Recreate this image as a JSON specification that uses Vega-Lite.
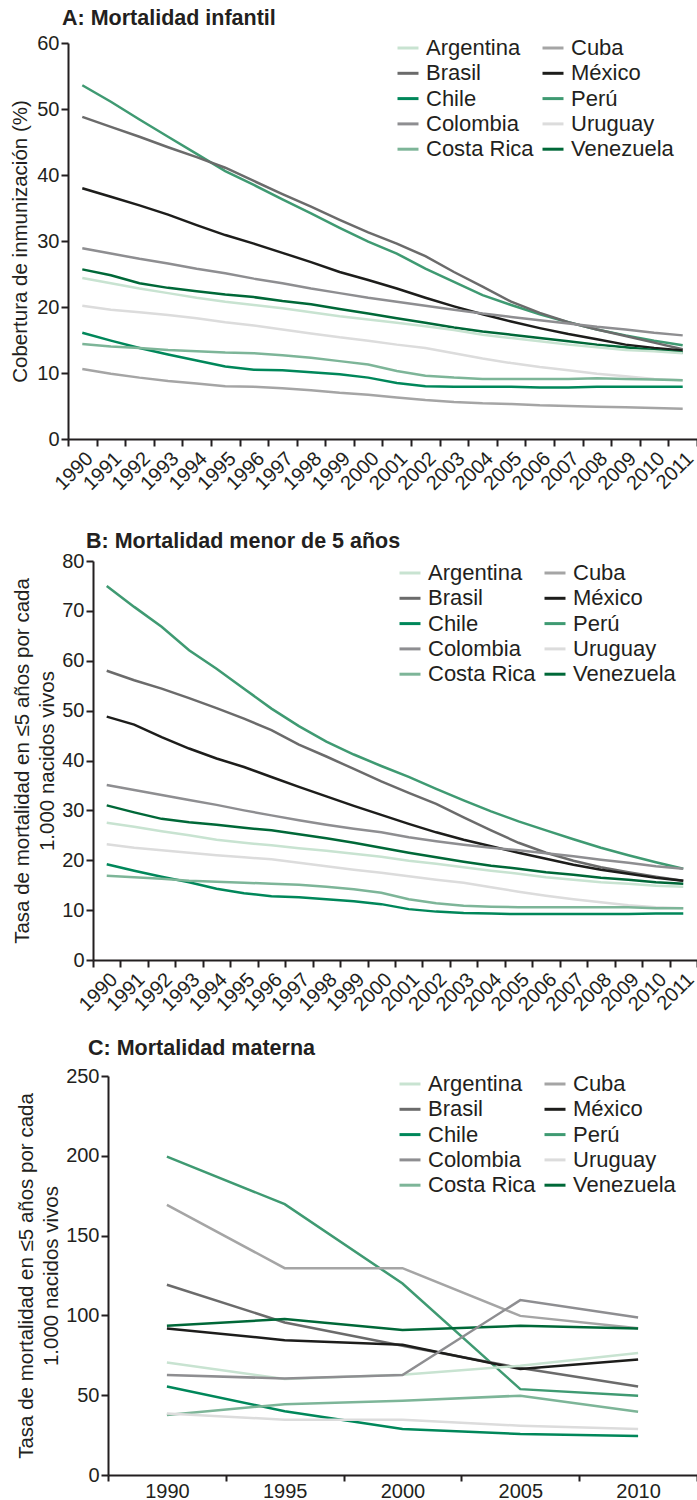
{
"$schema": "https://vega.github.io/schema/vega-lite/v6.json",
"background": "white",
"padding": {"left": 10, "top": 7, "right": 0, "bottom": 0},
"config": {
  "font": "Liberation Sans",
  "view": {"stroke": null},
  "axis": {"domainColor": "#231f20", "domainWidth": 2, "tickColor": "#231f20", "tickWidth": 2, "tickSize": 7, "labelColor": "#231f20", "labelFontSize": 20, "titleFontSize": 20.5, "titleFontWeight": "normal", "titleColor": "#231f20", "grid": false, "labelPadding": 2},
  "legend": {"orient": "none", "columns": 2, "symbolType": "stroke", "symbolSize": 441, "symbolStrokeWidth": 3, "labelFontSize": 22, "labelColor": "#231f20", "rowPadding": 2.3, "columnPadding": 2, "labelOffset": 6, "labelLimit": 300, "title": null},
  "title": {"fontSize": 21.5, "fontWeight": "bold", "color": "#231f20", "anchor": "start", "frame": "group"}
},
"datasets": {
"A": [
{"pais":"Perú","anio":1990,"valor":53.6},{"pais":"Perú","anio":1991,"valor":51.1},{"pais":"Perú","anio":1992,"valor":48.4},{"pais":"Perú","anio":1993,"valor":45.8},{"pais":"Perú","anio":1994,"valor":43.2},{"pais":"Perú","anio":1995,"valor":40.6},{"pais":"Perú","anio":1996,"valor":38.5},{"pais":"Perú","anio":1997,"valor":36.3},{"pais":"Perú","anio":1998,"valor":34.2},{"pais":"Perú","anio":1999,"valor":32.0},{"pais":"Perú","anio":2000,"valor":29.9},{"pais":"Perú","anio":2001,"valor":28.1},{"pais":"Perú","anio":2002,"valor":25.8},{"pais":"Perú","anio":2003,"valor":23.8},{"pais":"Perú","anio":2004,"valor":21.8},{"pais":"Perú","anio":2005,"valor":20.3},{"pais":"Perú","anio":2006,"valor":18.9},{"pais":"Perú","anio":2007,"valor":17.7},{"pais":"Perú","anio":2008,"valor":16.6},{"pais":"Perú","anio":2009,"valor":15.7},{"pais":"Perú","anio":2010,"valor":14.9},{"pais":"Perú","anio":2011,"valor":14.2},
{"pais":"Brasil","anio":1990,"valor":48.8},{"pais":"Brasil","anio":1991,"valor":47.3},{"pais":"Brasil","anio":1992,"valor":45.8},{"pais":"Brasil","anio":1993,"valor":44.2},{"pais":"Brasil","anio":1994,"valor":42.7},{"pais":"Brasil","anio":1995,"valor":41.1},{"pais":"Brasil","anio":1996,"valor":39.1},{"pais":"Brasil","anio":1997,"valor":37.1},{"pais":"Brasil","anio":1998,"valor":35.2},{"pais":"Brasil","anio":1999,"valor":33.2},{"pais":"Brasil","anio":2000,"valor":31.3},{"pais":"Brasil","anio":2001,"valor":29.6},{"pais":"Brasil","anio":2002,"valor":27.7},{"pais":"Brasil","anio":2003,"valor":25.3},{"pais":"Brasil","anio":2004,"valor":23.1},{"pais":"Brasil","anio":2005,"valor":20.8},{"pais":"Brasil","anio":2006,"valor":19.1},{"pais":"Brasil","anio":2007,"valor":17.7},{"pais":"Brasil","anio":2008,"valor":16.6},{"pais":"Brasil","anio":2009,"valor":15.6},{"pais":"Brasil","anio":2010,"valor":14.6},{"pais":"Brasil","anio":2011,"valor":13.6},
{"pais":"México","anio":1990,"valor":38.0},{"pais":"México","anio":1991,"valor":36.7},{"pais":"México","anio":1992,"valor":35.4},{"pais":"México","anio":1993,"valor":34.0},{"pais":"México","anio":1994,"valor":32.4},{"pais":"México","anio":1995,"valor":30.9},{"pais":"México","anio":1996,"valor":29.6},{"pais":"México","anio":1997,"valor":28.2},{"pais":"México","anio":1998,"valor":26.8},{"pais":"México","anio":1999,"valor":25.3},{"pais":"México","anio":2000,"valor":24.1},{"pais":"México","anio":2001,"valor":22.8},{"pais":"México","anio":2002,"valor":21.4},{"pais":"México","anio":2003,"valor":20.1},{"pais":"México","anio":2004,"valor":18.9},{"pais":"México","anio":2005,"valor":17.8},{"pais":"México","anio":2006,"valor":16.8},{"pais":"México","anio":2007,"valor":15.9},{"pais":"México","anio":2008,"valor":15.1},{"pais":"México","anio":2009,"valor":14.3},{"pais":"México","anio":2010,"valor":13.8},{"pais":"México","anio":2011,"valor":13.4},
{"pais":"Colombia","anio":1990,"valor":28.9},{"pais":"Colombia","anio":1991,"valor":28.1},{"pais":"Colombia","anio":1992,"valor":27.3},{"pais":"Colombia","anio":1993,"valor":26.6},{"pais":"Colombia","anio":1994,"valor":25.8},{"pais":"Colombia","anio":1995,"valor":25.1},{"pais":"Colombia","anio":1996,"valor":24.3},{"pais":"Colombia","anio":1997,"valor":23.6},{"pais":"Colombia","anio":1998,"valor":22.8},{"pais":"Colombia","anio":1999,"valor":22.1},{"pais":"Colombia","anio":2000,"valor":21.4},{"pais":"Colombia","anio":2001,"valor":20.8},{"pais":"Colombia","anio":2002,"valor":20.2},{"pais":"Colombia","anio":2003,"valor":19.6},{"pais":"Colombia","anio":2004,"valor":19.0},{"pais":"Colombia","anio":2005,"valor":18.5},{"pais":"Colombia","anio":2006,"valor":18.0},{"pais":"Colombia","anio":2007,"valor":17.5},{"pais":"Colombia","anio":2008,"valor":17.0},{"pais":"Colombia","anio":2009,"valor":16.6},{"pais":"Colombia","anio":2010,"valor":16.1},{"pais":"Colombia","anio":2011,"valor":15.7},
{"pais":"Venezuela","anio":1990,"valor":25.7},{"pais":"Venezuela","anio":1991,"valor":24.8},{"pais":"Venezuela","anio":1992,"valor":23.6},{"pais":"Venezuela","anio":1993,"valor":22.9},{"pais":"Venezuela","anio":1994,"valor":22.4},{"pais":"Venezuela","anio":1995,"valor":21.9},{"pais":"Venezuela","anio":1996,"valor":21.5},{"pais":"Venezuela","anio":1997,"valor":20.9},{"pais":"Venezuela","anio":1998,"valor":20.4},{"pais":"Venezuela","anio":1999,"valor":19.7},{"pais":"Venezuela","anio":2000,"valor":19.0},{"pais":"Venezuela","anio":2001,"valor":18.3},{"pais":"Venezuela","anio":2002,"valor":17.6},{"pais":"Venezuela","anio":2003,"valor":16.9},{"pais":"Venezuela","anio":2004,"valor":16.3},{"pais":"Venezuela","anio":2005,"valor":15.8},{"pais":"Venezuela","anio":2006,"valor":15.3},{"pais":"Venezuela","anio":2007,"valor":14.8},{"pais":"Venezuela","anio":2008,"valor":14.3},{"pais":"Venezuela","anio":2009,"valor":13.9},{"pais":"Venezuela","anio":2010,"valor":13.5},{"pais":"Venezuela","anio":2011,"valor":13.1},
{"pais":"Argentina","anio":1990,"valor":24.4},{"pais":"Argentina","anio":1991,"valor":23.6},{"pais":"Argentina","anio":1992,"valor":22.8},{"pais":"Argentina","anio":1993,"valor":22.1},{"pais":"Argentina","anio":1994,"valor":21.4},{"pais":"Argentina","anio":1995,"valor":20.8},{"pais":"Argentina","anio":1996,"valor":20.3},{"pais":"Argentina","anio":1997,"valor":19.8},{"pais":"Argentina","anio":1998,"valor":19.2},{"pais":"Argentina","anio":1999,"valor":18.6},{"pais":"Argentina","anio":2000,"valor":18.1},{"pais":"Argentina","anio":2001,"valor":17.6},{"pais":"Argentina","anio":2002,"valor":17.1},{"pais":"Argentina","anio":2003,"valor":16.5},{"pais":"Argentina","anio":2004,"valor":15.8},{"pais":"Argentina","anio":2005,"valor":15.3},{"pais":"Argentina","anio":2006,"valor":14.8},{"pais":"Argentina","anio":2007,"valor":14.3},{"pais":"Argentina","anio":2008,"valor":13.9},{"pais":"Argentina","anio":2009,"valor":13.5},{"pais":"Argentina","anio":2010,"valor":13.3},{"pais":"Argentina","anio":2011,"valor":13.0},
{"pais":"Uruguay","anio":1990,"valor":20.2},{"pais":"Uruguay","anio":1991,"valor":19.6},{"pais":"Uruguay","anio":1992,"valor":19.2},{"pais":"Uruguay","anio":1993,"valor":18.8},{"pais":"Uruguay","anio":1994,"valor":18.3},{"pais":"Uruguay","anio":1995,"valor":17.7},{"pais":"Uruguay","anio":1996,"valor":17.2},{"pais":"Uruguay","anio":1997,"valor":16.6},{"pais":"Uruguay","anio":1998,"valor":16.0},{"pais":"Uruguay","anio":1999,"valor":15.4},{"pais":"Uruguay","anio":2000,"valor":14.9},{"pais":"Uruguay","anio":2001,"valor":14.3},{"pais":"Uruguay","anio":2002,"valor":13.8},{"pais":"Uruguay","anio":2003,"valor":13.0},{"pais":"Uruguay","anio":2004,"valor":12.2},{"pais":"Uruguay","anio":2005,"valor":11.5},{"pais":"Uruguay","anio":2006,"valor":10.9},{"pais":"Uruguay","anio":2007,"valor":10.4},{"pais":"Uruguay","anio":2008,"valor":9.9},{"pais":"Uruguay","anio":2009,"valor":9.5},{"pais":"Uruguay","anio":2010,"valor":9.1},{"pais":"Uruguay","anio":2011,"valor":8.9},
{"pais":"Chile","anio":1990,"valor":16.1},{"pais":"Chile","anio":1991,"valor":14.9},{"pais":"Chile","anio":1992,"valor":13.8},{"pais":"Chile","anio":1993,"valor":12.8},{"pais":"Chile","anio":1994,"valor":11.9},{"pais":"Chile","anio":1995,"valor":11.0},{"pais":"Chile","anio":1996,"valor":10.5},{"pais":"Chile","anio":1997,"valor":10.4},{"pais":"Chile","anio":1998,"valor":10.1},{"pais":"Chile","anio":1999,"valor":9.8},{"pais":"Chile","anio":2000,"valor":9.3},{"pais":"Chile","anio":2001,"valor":8.5},{"pais":"Chile","anio":2002,"valor":8.0},{"pais":"Chile","anio":2003,"valor":7.9},{"pais":"Chile","anio":2004,"valor":7.9},{"pais":"Chile","anio":2005,"valor":7.9},{"pais":"Chile","anio":2006,"valor":7.8},{"pais":"Chile","anio":2007,"valor":7.8},{"pais":"Chile","anio":2008,"valor":7.9},{"pais":"Chile","anio":2009,"valor":7.9},{"pais":"Chile","anio":2010,"valor":7.9},{"pais":"Chile","anio":2011,"valor":7.9},
{"pais":"Costa Rica","anio":1990,"valor":14.4},{"pais":"Costa Rica","anio":1991,"valor":14.0},{"pais":"Costa Rica","anio":1992,"valor":13.8},{"pais":"Costa Rica","anio":1993,"valor":13.5},{"pais":"Costa Rica","anio":1994,"valor":13.3},{"pais":"Costa Rica","anio":1995,"valor":13.1},{"pais":"Costa Rica","anio":1996,"valor":13.0},{"pais":"Costa Rica","anio":1997,"valor":12.7},{"pais":"Costa Rica","anio":1998,"valor":12.3},{"pais":"Costa Rica","anio":1999,"valor":11.8},{"pais":"Costa Rica","anio":2000,"valor":11.3},{"pais":"Costa Rica","anio":2001,"valor":10.3},{"pais":"Costa Rica","anio":2002,"valor":9.6},{"pais":"Costa Rica","anio":2003,"valor":9.3},{"pais":"Costa Rica","anio":2004,"valor":9.1},{"pais":"Costa Rica","anio":2005,"valor":9.1},{"pais":"Costa Rica","anio":2006,"valor":9.1},{"pais":"Costa Rica","anio":2007,"valor":9.1},{"pais":"Costa Rica","anio":2008,"valor":9.2},{"pais":"Costa Rica","anio":2009,"valor":9.1},{"pais":"Costa Rica","anio":2010,"valor":9.0},{"pais":"Costa Rica","anio":2011,"valor":8.9},
{"pais":"Cuba","anio":1990,"valor":10.6},{"pais":"Cuba","anio":1991,"valor":9.9},{"pais":"Cuba","anio":1992,"valor":9.3},{"pais":"Cuba","anio":1993,"valor":8.8},{"pais":"Cuba","anio":1994,"valor":8.4},{"pais":"Cuba","anio":1995,"valor":8.0},{"pais":"Cuba","anio":1996,"valor":7.9},{"pais":"Cuba","anio":1997,"valor":7.7},{"pais":"Cuba","anio":1998,"valor":7.4},{"pais":"Cuba","anio":1999,"valor":7.0},{"pais":"Cuba","anio":2000,"valor":6.7},{"pais":"Cuba","anio":2001,"valor":6.3},{"pais":"Cuba","anio":2002,"valor":5.9},{"pais":"Cuba","anio":2003,"valor":5.6},{"pais":"Cuba","anio":2004,"valor":5.4},{"pais":"Cuba","anio":2005,"valor":5.3},{"pais":"Cuba","anio":2006,"valor":5.1},{"pais":"Cuba","anio":2007,"valor":5.0},{"pais":"Cuba","anio":2008,"valor":4.9},{"pais":"Cuba","anio":2009,"valor":4.8},{"pais":"Cuba","anio":2010,"valor":4.7},{"pais":"Cuba","anio":2011,"valor":4.6}
],
"B": [
{"pais":"Perú","anio":1990,"valor":75.0},{"pais":"Perú","anio":1991,"valor":70.8},{"pais":"Perú","anio":1992,"valor":66.8},{"pais":"Perú","anio":1993,"valor":62.1},{"pais":"Perú","anio":1994,"valor":58.4},{"pais":"Perú","anio":1995,"valor":54.4},{"pais":"Perú","anio":1996,"valor":50.4},{"pais":"Perú","anio":1997,"valor":46.9},{"pais":"Perú","anio":1998,"valor":43.8},{"pais":"Perú","anio":1999,"valor":41.2},{"pais":"Perú","anio":2000,"valor":38.9},{"pais":"Perú","anio":2001,"valor":36.7},{"pais":"Perú","anio":2002,"valor":34.3},{"pais":"Perú","anio":2003,"valor":32.0},{"pais":"Perú","anio":2004,"valor":29.8},{"pais":"Perú","anio":2005,"valor":27.8},{"pais":"Perú","anio":2006,"valor":26.0},{"pais":"Perú","anio":2007,"valor":24.2},{"pais":"Perú","anio":2008,"valor":22.5},{"pais":"Perú","anio":2009,"valor":21.0},{"pais":"Perú","anio":2010,"valor":19.6},{"pais":"Perú","anio":2011,"valor":18.3},
{"pais":"Brasil","anio":1990,"valor":58.0},{"pais":"Brasil","anio":1991,"valor":56.1},{"pais":"Brasil","anio":1992,"valor":54.4},{"pais":"Brasil","anio":1993,"valor":52.5},{"pais":"Brasil","anio":1994,"valor":50.5},{"pais":"Brasil","anio":1995,"valor":48.4},{"pais":"Brasil","anio":1996,"valor":46.1},{"pais":"Brasil","anio":1997,"valor":43.2},{"pais":"Brasil","anio":1998,"valor":40.8},{"pais":"Brasil","anio":1999,"valor":38.3},{"pais":"Brasil","anio":2000,"valor":35.8},{"pais":"Brasil","anio":2001,"valor":33.5},{"pais":"Brasil","anio":2002,"valor":31.3},{"pais":"Brasil","anio":2003,"valor":28.6},{"pais":"Brasil","anio":2004,"valor":26.0},{"pais":"Brasil","anio":2005,"valor":23.5},{"pais":"Brasil","anio":2006,"valor":21.5},{"pais":"Brasil","anio":2007,"valor":19.9},{"pais":"Brasil","anio":2008,"valor":18.6},{"pais":"Brasil","anio":2009,"valor":17.6},{"pais":"Brasil","anio":2010,"valor":16.7},{"pais":"Brasil","anio":2011,"valor":15.9},
{"pais":"México","anio":1990,"valor":48.8},{"pais":"México","anio":1991,"valor":47.2},{"pais":"México","anio":1992,"valor":44.7},{"pais":"México","anio":1993,"valor":42.4},{"pais":"México","anio":1994,"valor":40.4},{"pais":"México","anio":1995,"valor":38.7},{"pais":"México","anio":1996,"valor":36.7},{"pais":"México","anio":1997,"valor":34.7},{"pais":"México","anio":1998,"valor":32.8},{"pais":"México","anio":1999,"valor":30.9},{"pais":"México","anio":2000,"valor":29.1},{"pais":"México","anio":2001,"valor":27.3},{"pais":"México","anio":2002,"valor":25.6},{"pais":"México","anio":2003,"valor":24.1},{"pais":"México","anio":2004,"valor":22.8},{"pais":"México","anio":2005,"valor":21.5},{"pais":"México","anio":2006,"valor":20.3},{"pais":"México","anio":2007,"valor":19.1},{"pais":"México","anio":2008,"valor":18.1},{"pais":"México","anio":2009,"valor":17.3},{"pais":"México","anio":2010,"valor":16.5},{"pais":"México","anio":2011,"valor":15.9},
{"pais":"Colombia","anio":1990,"valor":35.1},{"pais":"Colombia","anio":1991,"valor":34.1},{"pais":"Colombia","anio":1992,"valor":33.1},{"pais":"Colombia","anio":1993,"valor":32.1},{"pais":"Colombia","anio":1994,"valor":31.1},{"pais":"Colombia","anio":1995,"valor":30.0},{"pais":"Colombia","anio":1996,"valor":29.0},{"pais":"Colombia","anio":1997,"valor":28.0},{"pais":"Colombia","anio":1998,"valor":27.1},{"pais":"Colombia","anio":1999,"valor":26.3},{"pais":"Colombia","anio":2000,"valor":25.6},{"pais":"Colombia","anio":2001,"valor":24.6},{"pais":"Colombia","anio":2002,"valor":23.8},{"pais":"Colombia","anio":2003,"valor":23.1},{"pais":"Colombia","anio":2004,"valor":22.5},{"pais":"Colombia","anio":2005,"valor":22.0},{"pais":"Colombia","anio":2006,"valor":21.4},{"pais":"Colombia","anio":2007,"valor":20.8},{"pais":"Colombia","anio":2008,"valor":20.1},{"pais":"Colombia","anio":2009,"valor":19.5},{"pais":"Colombia","anio":2010,"valor":18.8},{"pais":"Colombia","anio":2011,"valor":18.3},
{"pais":"Venezuela","anio":1990,"valor":31.0},{"pais":"Venezuela","anio":1991,"valor":29.6},{"pais":"Venezuela","anio":1992,"valor":28.3},{"pais":"Venezuela","anio":1993,"valor":27.6},{"pais":"Venezuela","anio":1994,"valor":27.1},{"pais":"Venezuela","anio":1995,"valor":26.5},{"pais":"Venezuela","anio":1996,"valor":26.0},{"pais":"Venezuela","anio":1997,"valor":25.2},{"pais":"Venezuela","anio":1998,"valor":24.4},{"pais":"Venezuela","anio":1999,"valor":23.5},{"pais":"Venezuela","anio":2000,"valor":22.5},{"pais":"Venezuela","anio":2001,"valor":21.5},{"pais":"Venezuela","anio":2002,"valor":20.6},{"pais":"Venezuela","anio":2003,"valor":19.7},{"pais":"Venezuela","anio":2004,"valor":18.9},{"pais":"Venezuela","anio":2005,"valor":18.3},{"pais":"Venezuela","anio":2006,"valor":17.6},{"pais":"Venezuela","anio":2007,"valor":17.1},{"pais":"Venezuela","anio":2008,"valor":16.5},{"pais":"Venezuela","anio":2009,"valor":16.1},{"pais":"Venezuela","anio":2010,"valor":15.6},{"pais":"Venezuela","anio":2011,"valor":15.3},
{"pais":"Argentina","anio":1990,"valor":27.5},{"pais":"Argentina","anio":1991,"valor":26.7},{"pais":"Argentina","anio":1992,"valor":25.8},{"pais":"Argentina","anio":1993,"valor":25.0},{"pais":"Argentina","anio":1994,"valor":24.1},{"pais":"Argentina","anio":1995,"valor":23.5},{"pais":"Argentina","anio":1996,"valor":23.0},{"pais":"Argentina","anio":1997,"valor":22.4},{"pais":"Argentina","anio":1998,"valor":21.9},{"pais":"Argentina","anio":1999,"valor":21.3},{"pais":"Argentina","anio":2000,"valor":20.7},{"pais":"Argentina","anio":2001,"valor":19.9},{"pais":"Argentina","anio":2002,"valor":19.3},{"pais":"Argentina","anio":2003,"valor":18.6},{"pais":"Argentina","anio":2004,"valor":17.9},{"pais":"Argentina","anio":2005,"valor":17.3},{"pais":"Argentina","anio":2006,"valor":16.6},{"pais":"Argentina","anio":2007,"valor":16.1},{"pais":"Argentina","anio":2008,"valor":15.6},{"pais":"Argentina","anio":2009,"valor":15.3},{"pais":"Argentina","anio":2010,"valor":14.9},{"pais":"Argentina","anio":2011,"valor":14.7},
{"pais":"Uruguay","anio":1990,"valor":23.2},{"pais":"Uruguay","anio":1991,"valor":22.5},{"pais":"Uruguay","anio":1992,"valor":22.0},{"pais":"Uruguay","anio":1993,"valor":21.5},{"pais":"Uruguay","anio":1994,"valor":21.0},{"pais":"Uruguay","anio":1995,"valor":20.6},{"pais":"Uruguay","anio":1996,"valor":20.2},{"pais":"Uruguay","anio":1997,"valor":19.5},{"pais":"Uruguay","anio":1998,"valor":18.8},{"pais":"Uruguay","anio":1999,"valor":18.1},{"pais":"Uruguay","anio":2000,"valor":17.5},{"pais":"Uruguay","anio":2001,"valor":16.8},{"pais":"Uruguay","anio":2002,"valor":16.1},{"pais":"Uruguay","anio":2003,"valor":15.5},{"pais":"Uruguay","anio":2004,"valor":14.6},{"pais":"Uruguay","anio":2005,"valor":13.7},{"pais":"Uruguay","anio":2006,"valor":12.9},{"pais":"Uruguay","anio":2007,"valor":12.2},{"pais":"Uruguay","anio":2008,"valor":11.6},{"pais":"Uruguay","anio":2009,"valor":11.0},{"pais":"Uruguay","anio":2010,"valor":10.6},{"pais":"Uruguay","anio":2011,"valor":10.4},
{"pais":"Chile","anio":1990,"valor":19.2},{"pais":"Chile","anio":1991,"valor":17.9},{"pais":"Chile","anio":1992,"valor":16.7},{"pais":"Chile","anio":1993,"valor":15.6},{"pais":"Chile","anio":1994,"valor":14.3},{"pais":"Chile","anio":1995,"valor":13.4},{"pais":"Chile","anio":1996,"valor":12.8},{"pais":"Chile","anio":1997,"valor":12.6},{"pais":"Chile","anio":1998,"valor":12.2},{"pais":"Chile","anio":1999,"valor":11.8},{"pais":"Chile","anio":2000,"valor":11.2},{"pais":"Chile","anio":2001,"valor":10.2},{"pais":"Chile","anio":2002,"valor":9.7},{"pais":"Chile","anio":2003,"valor":9.4},{"pais":"Chile","anio":2004,"valor":9.3},{"pais":"Chile","anio":2005,"valor":9.2},{"pais":"Chile","anio":2006,"valor":9.2},{"pais":"Chile","anio":2007,"valor":9.2},{"pais":"Chile","anio":2008,"valor":9.2},{"pais":"Chile","anio":2009,"valor":9.2},{"pais":"Chile","anio":2010,"valor":9.3},{"pais":"Chile","anio":2011,"valor":9.3},
{"pais":"Costa Rica","anio":1990,"valor":16.9},{"pais":"Costa Rica","anio":1991,"valor":16.6},{"pais":"Costa Rica","anio":1992,"valor":16.3},{"pais":"Costa Rica","anio":1993,"valor":15.9},{"pais":"Costa Rica","anio":1994,"valor":15.7},{"pais":"Costa Rica","anio":1995,"valor":15.5},{"pais":"Costa Rica","anio":1996,"valor":15.3},{"pais":"Costa Rica","anio":1997,"valor":15.1},{"pais":"Costa Rica","anio":1998,"valor":14.7},{"pais":"Costa Rica","anio":1999,"valor":14.2},{"pais":"Costa Rica","anio":2000,"valor":13.5},{"pais":"Costa Rica","anio":2001,"valor":12.2},{"pais":"Costa Rica","anio":2002,"valor":11.4},{"pais":"Costa Rica","anio":2003,"valor":10.9},{"pais":"Costa Rica","anio":2004,"valor":10.7},{"pais":"Costa Rica","anio":2005,"valor":10.6},{"pais":"Costa Rica","anio":2006,"valor":10.6},{"pais":"Costa Rica","anio":2007,"valor":10.6},{"pais":"Costa Rica","anio":2008,"valor":10.6},{"pais":"Costa Rica","anio":2009,"valor":10.6},{"pais":"Costa Rica","anio":2010,"valor":10.4},{"pais":"Costa Rica","anio":2011,"valor":10.4}
],
"C": [
{"pais":"Perú","anio":1990,"valor":199.5},{"pais":"Perú","anio":1995,"valor":169.7},{"pais":"Perú","anio":2000,"valor":120},{"pais":"Perú","anio":2005,"valor":53.8},{"pais":"Perú","anio":2010,"valor":49.7},
{"pais":"Cuba","anio":1990,"valor":169.2},{"pais":"Cuba","anio":1995,"valor":129.6},{"pais":"Cuba","anio":2000,"valor":129.6},{"pais":"Cuba","anio":2005,"valor":99.7},{"pais":"Cuba","anio":2010,"valor":92},
{"pais":"Brasil","anio":1990,"valor":119.2},{"pais":"Brasil","anio":1995,"valor":95.6},{"pais":"Brasil","anio":2000,"valor":81},{"pais":"Brasil","anio":2005,"valor":67},{"pais":"Brasil","anio":2010,"valor":55.5},
{"pais":"Venezuela","anio":1990,"valor":93.5},{"pais":"Venezuela","anio":1995,"valor":97.7},{"pais":"Venezuela","anio":2000,"valor":90.8},{"pais":"Venezuela","anio":2005,"valor":93.5},{"pais":"Venezuela","anio":2010,"valor":91.8},
{"pais":"México","anio":1990,"valor":91.8},{"pais":"México","anio":1995,"valor":84.5},{"pais":"México","anio":2000,"valor":81.6},{"pais":"México","anio":2005,"valor":66.4},{"pais":"México","anio":2010,"valor":72.4},
{"pais":"Argentina","anio":1990,"valor":70.5},{"pais":"Argentina","anio":1995,"valor":60.1},{"pais":"Argentina","anio":2000,"valor":62.8},{"pais":"Argentina","anio":2005,"valor":68.4},{"pais":"Argentina","anio":2010,"valor":76.4},
{"pais":"Colombia","anio":1990,"valor":62.6},{"pais":"Colombia","anio":1995,"valor":60.5},{"pais":"Colombia","anio":2000,"valor":62.6},{"pais":"Colombia","anio":2005,"valor":109.6},{"pais":"Colombia","anio":2010,"valor":98.7},
{"pais":"Chile","anio":1990,"valor":55.5},{"pais":"Chile","anio":1995,"valor":39.9},{"pais":"Chile","anio":2000,"valor":28.8},{"pais":"Chile","anio":2005,"valor":25.7},{"pais":"Chile","anio":2010,"valor":24.4},
{"pais":"Costa Rica","anio":1990,"valor":37.6},{"pais":"Costa Rica","anio":1995,"valor":44.4},{"pais":"Costa Rica","anio":2000,"valor":46.5},{"pais":"Costa Rica","anio":2005,"valor":49.7},{"pais":"Costa Rica","anio":2010,"valor":39.6},
{"pais":"Uruguay","anio":1990,"valor":38.6},{"pais":"Uruguay","anio":1995,"valor":34.6},{"pais":"Uruguay","anio":2000,"valor":34.6},{"pais":"Uruguay","anio":2005,"valor":30.9},{"pais":"Uruguay","anio":2010,"valor":28.8}
]
},
"spacing": 36,
"resolve": {"scale": {"color": "independent"}, "legend": {"color": "independent"}},
"vconcat": [
{
  "title": {"text": "A: Mortalidad infantil", "dx": -6, "offset": 4},
  "width": 629, "height": 396,
  "data": {"name": "A"},
  "mark": {"type": "line", "strokeWidth": 2.5},
  "encoding": {
    "x": {"field": "anio", "type": "ordinal", "bandPosition": 0.5, "scale": {"type": "band", "paddingInner": 0, "paddingOuter": 0, "range": [0, 629]}, "axis": {"title": null, "labelAngle": -45, "tickBand": "extent"}},
    "y": {"field": "valor", "type": "quantitative", "scale": {"domain": [0, 60]}, "axis": {"title": "Cobertura de inmunización (%)", "values": [0, 10, 20, 30, 40, 50, 60], "titlePadding": 6}},
    "color": {"field": "pais", "type": "nominal", "scale": {"domain": ["Argentina", "Brasil", "Chile", "Colombia", "Costa Rica", "Cuba", "México", "Perú", "Uruguay", "Venezuela"], "range": ["#c8e3d1", "#6b6b6b", "#00875a", "#8e8e91", "#7db598", "#a5a5a5", "#1d1d1b", "#3f9a72", "#dcdcdc", "#006838"]}, "legend": {"legendX": 328, "legendY": -7}}
  }
},
{
  "spacing": 22,
  "resolve": {"scale": {"color": "independent"}, "legend": {"color": "independent"}},
  "vconcat": [
  {
    "title": {"text": "B: Mortalidad menor de 5 años", "dx": 18, "offset": -1},
    "width": 629, "height": 399,
    "data": {"name": "B"},
    "mark": {"type": "line", "strokeWidth": 2.5},
    "encoding": {
      "x": {"field": "anio", "type": "ordinal", "bandPosition": 0.5, "scale": {"type": "band", "paddingInner": 0, "paddingOuter": 0, "range": [25, 629]}, "axis": {"title": null, "labelAngle": -45, "tickBand": "extent"}},
      "y": {"field": "valor", "type": "quantitative", "scale": {"domain": [0, 80]}, "axis": {"title": ["Tasa de mortalidad en ≤5 años por cada", "1.000 nacidos vivos"], "titleLineHeight": 25, "values": [0, 10, 20, 30, 40, 50, 60, 70, 80], "offset": -25, "titlePadding": 4}},
      "color": {"field": "pais", "type": "nominal", "scale": {"domain": ["Argentina", "Brasil", "Chile", "Colombia", "Costa Rica", "Cuba", "México", "Perú", "Uruguay", "Venezuela"], "range": ["#c8e3d1", "#6b6b6b", "#00875a", "#8e8e91", "#7db598", "#a5a5a5", "#1d1d1b", "#3f9a72", "#dcdcdc", "#006838"]}, "legend": {"legendX": 330, "legendY": 0}}
    }
  },
  {
    "title": {"text": "C: Mortalidad materna", "dx": 20, "offset": 7},
    "width": 629, "height": 399,
    "data": {"name": "C"},
    "mark": {"type": "line", "strokeWidth": 2.5},
    "encoding": {
      "x": {"field": "anio", "type": "ordinal", "bandPosition": 0.5, "scale": {"type": "band", "paddingInner": 0, "paddingOuter": 0, "range": [40, 629]}, "axis": {"title": null, "labelAngle": 0, "tickBand": "extent", "labelPadding": 0, "tickSize": 6}},
      "y": {"field": "valor", "type": "quantitative", "scale": {"domain": [0, 250]}, "axis": {"title": ["Tasa de mortalidad en ≤5 años por cada", "1.000 nacidos vivos"], "titleLineHeight": 25, "values": [0, 50, 100, 150, 200, 250], "offset": -40, "titlePadding": 4}},
      "color": {"field": "pais", "type": "nominal", "scale": {"domain": ["Argentina", "Brasil", "Chile", "Colombia", "Costa Rica", "Cuba", "México", "Perú", "Uruguay", "Venezuela"], "range": ["#c8e3d1", "#6b6b6b", "#00875a", "#8e8e91", "#7db598", "#a5a5a5", "#1d1d1b", "#3f9a72", "#dcdcdc", "#006838"]}, "legend": {"legendX": 330, "legendY": -4}}
    }
  }
  ]
}
]
}
